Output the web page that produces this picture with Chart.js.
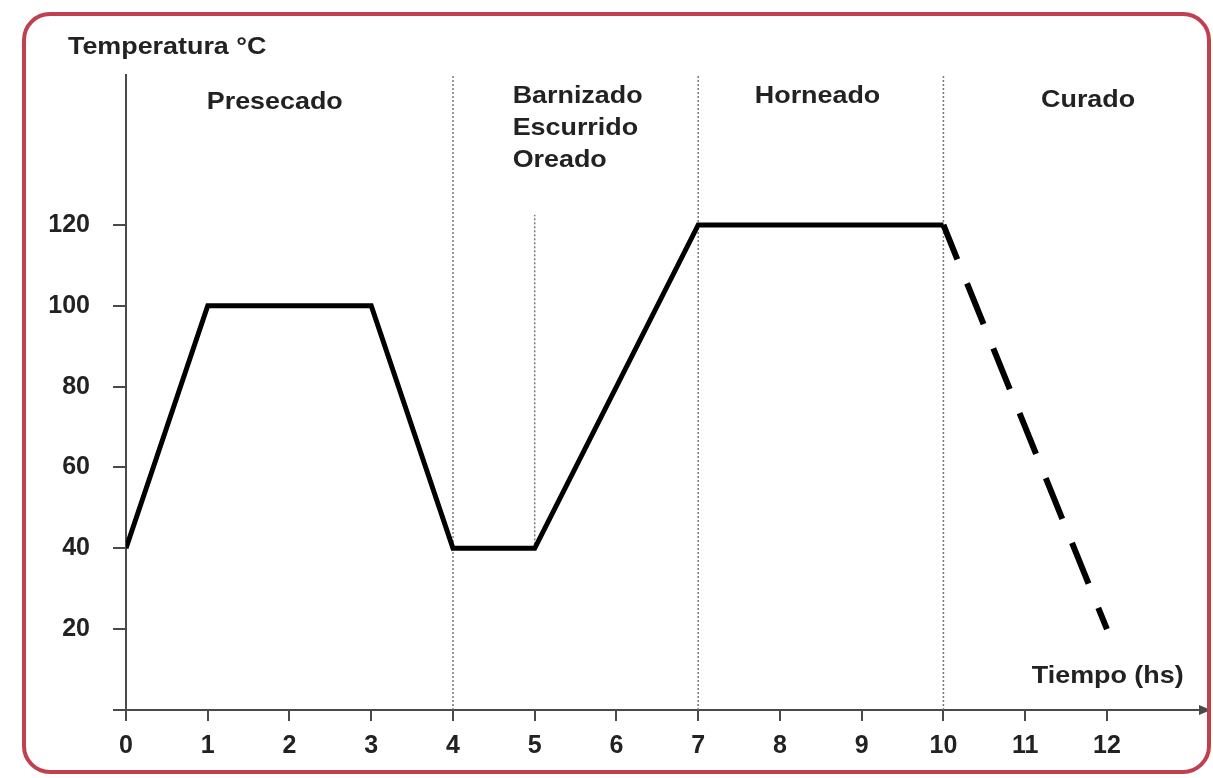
<!DOCTYPE html>
<html lang="es">
<head>
    <meta charset="UTF-8">
    <title>Temperatura vs Tiempo</title>
    <script src="https://cdn.jsdelivr.net/npm/chart.js@4.4.1/dist/chart.umd.min.js"></script>
    <style>
        html, body {
            margin: 0;
            padding: 0;
            background: #fff;
        }
        #wrap {
            position: relative;
            width: 1213px;
            height: 778px;
        }
        #marco {
            position: absolute;
            left: 22px;
            top: 12px;
            width: 1181px;
            height: 754px;
            border: 4px solid #c0404f;
            border-radius: 28px;
            pointer-events: none;
        }
    </style>
</head>
<body>
<div id="wrap">
    <canvas id="curva" width="1213" height="778"></canvas>
    <div id="marco"></div>
</div>

<script>
    // datos
    const tiempoProceso = [0, 1, 3, 4, 5, 7, 10];
    const tempProceso   = [40, 100, 100, 40, 40, 120, 120];
    const tiempoCurado  = [10, 12];
    const tempCurado    = [120, 20];

    // limites de etapas (lineas punteadas)
    const limitesEtapa = [4, 7, 10];
    const limiteOreado = { x: 5, desde: 40, hasta: 122.5 };

    const ticksTiempo = [0, 1, 2, 3, 4, 5, 6, 7, 8, 9, 10, 11, 12];
    const ticksTemp   = [0, 20, 40, 60, 80, 100, 120];

    const xMax = 13.2;
    const yMax = 157.1;

    // textos de las etapas, en coordenadas de datos
    const etiquetas = [
        { texto: 'Presecado', x: 1.82, y: 150.4, align: 'center' },
        { texto: 'Barnizado', x: 4.73, y: 151.9, align: 'left' },
        { texto: 'Escurrido', x: 4.73, y: 143.8, align: 'left' },
        { texto: 'Oreado', x: 4.73, y: 136.1, align: 'left' },
        { texto: 'Horneado', x: 8.46, y: 151.7, align: 'center' },
        { texto: 'Curado', x: 11.77, y: 150.9, align: 'center' },
        { texto: 'Tiempo (hs)', x: 12.01, y: 8.2, align: 'center' },
        { texto: 'Temperatura °C', x: -0.71, y: 164, align: 'left' }
    ];

    const familia = '"Liberation Sans", Arial, sans-serif';
    const fuente = 'bold 24px ' + familia;
    const colorEje = '#4a4a4a';

    const puntos = (xs, ys) => xs.map((x, i) => ({ x: x, y: ys[i] }));

    const datasets = [];
    limitesEtapa.forEach(x => {
        datasets.push({
            data: [{ x: x, y: 0 }, { x: x, y: yMax }],
            borderColor: '#777',
            borderWidth: 1.5,
            borderDash: [2, 2],
            pointRadius: 0,
            order: 3
        });
    });
    datasets.push({
        data: [{ x: limiteOreado.x, y: limiteOreado.desde }, { x: limiteOreado.x, y: limiteOreado.hasta }],
        borderColor: '#777',
        borderWidth: 1.5,
        borderDash: [2, 2],
        pointRadius: 0,
        order: 3
    });
    datasets.push({
        data: puntos(tiempoProceso, tempProceso),
        borderColor: '#000',
        borderWidth: 5,
        pointRadius: 0,
        borderJoinStyle: 'miter',
        order: 1
    });
    datasets.push({
        data: puntos(tiempoCurado, tempCurado),
        borderColor: '#000',
        borderWidth: 6,
        borderDash: [44, 26],
        borderDashOffset: 7,
        pointRadius: 0,
        order: 2
    });

    const textosPlugin = {
        id: 'textos',
        afterDraw(chart) {
            const ctx = chart.ctx;
            const xs = chart.scales.x, ys = chart.scales.y;
            ctx.save();
            ctx.font = fuente;
            ctx.fillStyle = '#222';
            ctx.textBaseline = 'middle';
            etiquetas.forEach(e => {
                // el original tiene la letra algo ensanchada
                ctx.save();
                ctx.translate(xs.getPixelForValue(e.x), ys.getPixelForValue(e.y));
                ctx.scale(1.12, 1);
                ctx.textAlign = e.align;
                ctx.fillText(e.texto, 0, 0);
                ctx.restore();
            });
            // flecha al final del eje x
            const px = chart.chartArea.right, py = ys.getPixelForValue(0);
            ctx.fillStyle = colorEje;
            ctx.beginPath();
            ctx.moveTo(px + 6, py);
            ctx.lineTo(px - 6, py - 5);
            ctx.lineTo(px - 6, py + 5);
            ctx.closePath();
            ctx.fill();
            ctx.restore();
        }
    };

    new Chart(document.getElementById('curva'), {
        type: 'line',
        data: { datasets: datasets },
        plugins: [textosPlugin],
        options: {
            responsive: false,
            animation: false,
            layout: { padding: { top: 75, right: 8, bottom: 0, left: 0 } },
            plugins: {
                legend: { display: false },
                tooltip: { enabled: false }
            },
            scales: {
                x: {
                    type: 'linear',
                    min: 0,
                    max: xMax,
                    afterBuildTicks: s => { s.ticks = ticksTiempo.map(v => ({ value: v })); },
                    afterFit: s => { s.height = 68; },
                    border: { display: true, color: colorEje, width: 2 },
                    grid: { drawOnChartArea: false, drawTicks: true, tickLength: 11, color: colorEje, lineWidth: 2 },
                    ticks: { color: '#222', font: { family: familia, size: 25, weight: 'bold' }, padding: 10, maxRotation: 0 }
                },
                y: {
                    type: 'linear',
                    min: 0,
                    max: yMax,
                    afterBuildTicks: s => { s.ticks = ticksTemp.map(v => ({ value: v })); },
                    afterFit: s => { s.width = 126; },
                    border: { display: true, color: colorEje, width: 2 },
                    grid: { drawOnChartArea: false, drawTicks: true, tickLength: 13, color: colorEje, lineWidth: 2 },
                    ticks: {
                        color: '#222',
                        font: { family: familia, size: 25, weight: 'bold' },
                        padding: 23,
                        callback: v => (v === 0 ? '' : v)
                    }
                }
            }
        }
    });
</script>
</body>
</html>
